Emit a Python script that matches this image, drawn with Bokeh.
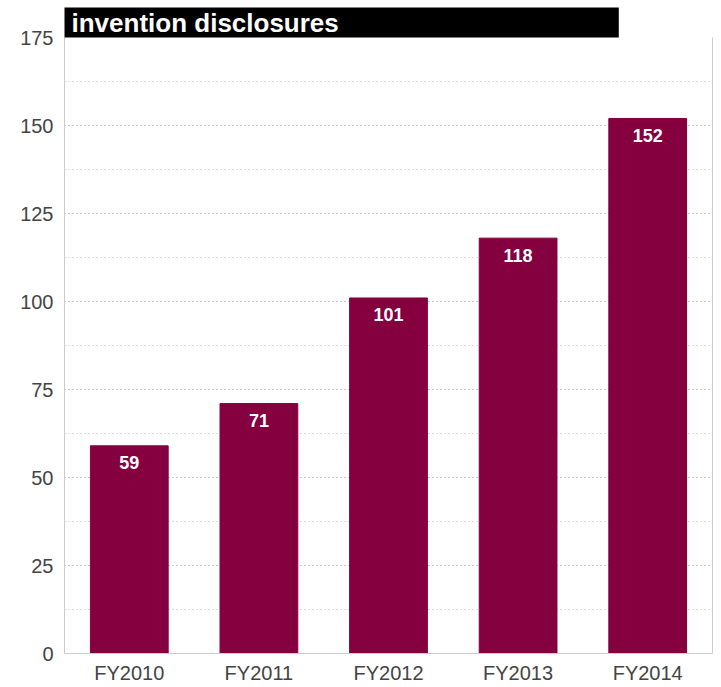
from bokeh.plotting import figure
from bokeh.models import (ColumnDataSource, SingleIntervalTicker, LinearAxis,
                          FactorRange, Range1d)
from bokeh.embed import file_html
from bokeh.resources import INLINE
from bokeh.core.properties import value

years = ["FY2010", "FY2011", "FY2012", "FY2013", "FY2014"]
disclosures = [59, 71, 101, 118, 152]
title_text = "invention disclosures"

src = ColumnDataSource(dict(x=years, top=disclosures, lbl=[str(v) for v in disclosures]))

FONT = "Liberation Sans"
p = figure(x_range=FactorRange(*years, range_padding=0), y_range=Range1d(0, 175),
           width=718, height=686, output_backend="svg", toolbar_location=None,
           min_border_left=64, min_border_top=37, min_border_bottom=30, min_border_right=4)
p.outline_line_color = None
p.background_fill_color = "white"

p.title.text = title_text
p.title.text_font = FONT
p.title.text_font_style = "bold"
p.title.text_font_size = "26px"
p.title.text_color = "white"
p.title.background_fill_color = "black"
p.title.align = "left"
p.title.standoff = 0
p.title.offset = 0
p.title.padding = dict(left=7, right=280, top=0, bottom=0)

p.vbar(x="x", top="top", width=0.6, source=src, color="#84003f")
p.text(x="x", y="top", text="lbl", source=src, text_align="center", text_baseline="middle",
       y_offset=17, text_color="white", text_font=value(FONT),
       text_font_style="bold", text_font_size="18px")

p.yaxis.ticker = SingleIntervalTicker(interval=25, num_minor_ticks=2)
p.yaxis.major_tick_line_color = None
p.yaxis.minor_tick_line_color = None
p.yaxis.axis_line_color = "#cccccc"
p.yaxis.major_label_text_font = FONT
p.yaxis.major_label_text_font_size = "20px"
p.yaxis.major_label_text_color = "#444444"
p.yaxis.major_label_standoff = 5

p.xaxis.major_tick_line_color = None
p.xaxis.axis_line_color = "#cccccc"
p.xaxis.major_label_text_font = FONT
p.xaxis.major_label_text_font_size = "20px"
p.xaxis.major_label_text_color = "#444444"
p.xaxis.major_label_standoff = 2

p.xgrid.grid_line_color = None
p.ygrid.grid_line_color = "#bbbbbb"
p.ygrid.grid_line_dash = "1 3"
p.ygrid.minor_grid_line_color = "#bbbbbb"
p.ygrid.minor_grid_line_dash = "1 3"

ra = LinearAxis(axis_line_color="#cccccc", major_tick_line_color=None,
                minor_tick_line_color=None, major_label_text_font_size="0px",
                major_label_standoff=0)
p.add_layout(ra, "right")

open("out.html", "w").write(file_html(p, INLINE))
